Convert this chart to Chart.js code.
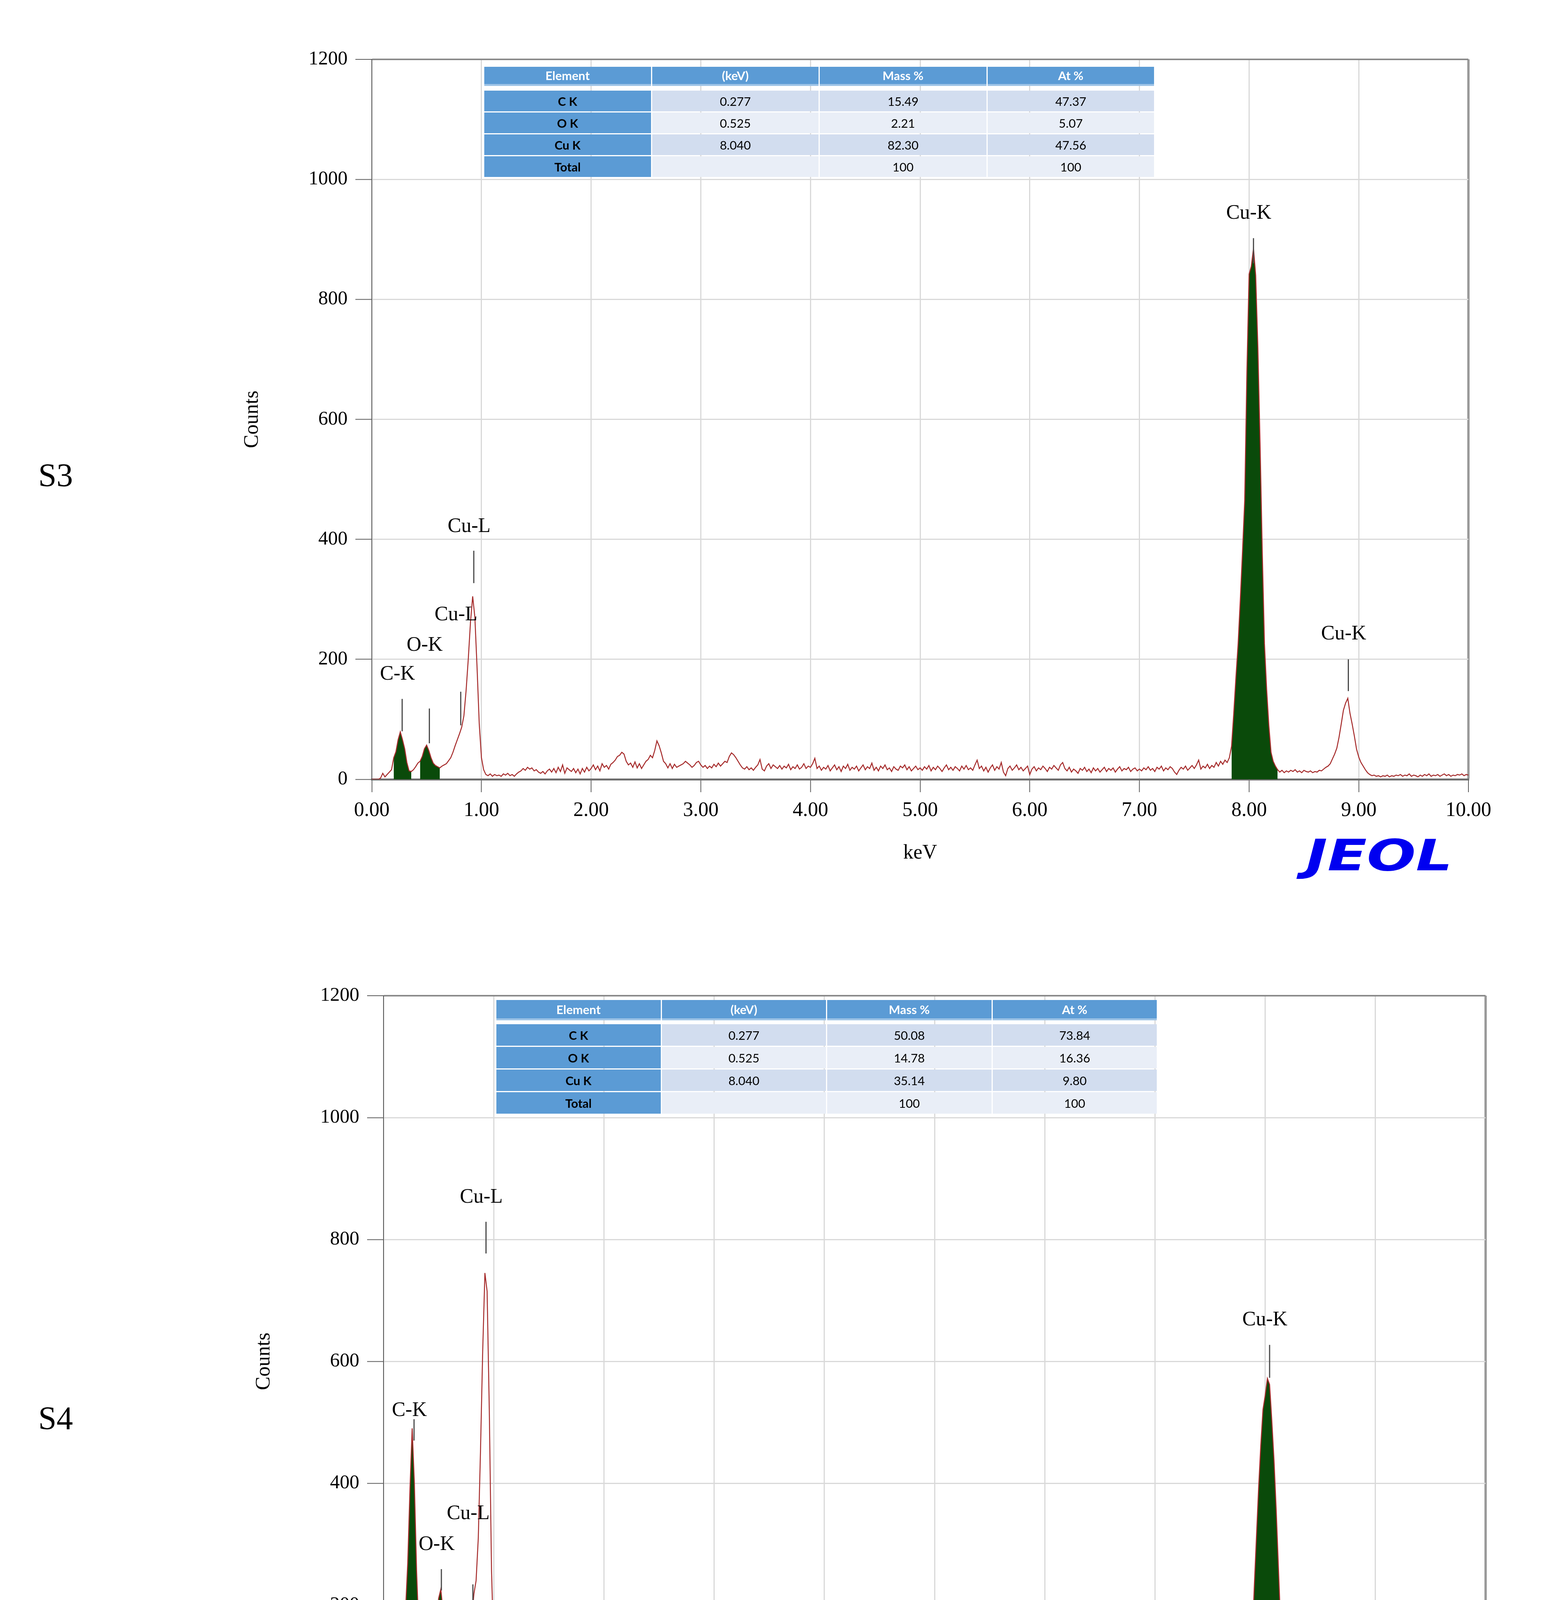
<!DOCTYPE html>
<html><head><meta charset="utf-8">
<script src="https://cdn.jsdelivr.net/npm/chart.js@4.4.1/dist/chart.umd.min.js"></script>
<style>
html,body{margin:0;padding:0;background:#fff;}
body{width:3974px;height:4735px;position:relative;overflow:hidden;}
canvas{position:absolute;left:0;}
.lbl{position:absolute;font-family:'Liberation Serif',serif;font-size:84px;line-height:1;color:#000;z-index:3;}
.jeol{position:absolute;font-family:'DejaVu Sans',sans-serif;font-weight:bold;font-style:italic;font-size:111px;line-height:1;color:#0000f0;transform-origin:0 0;transform:scaleX(1.33);white-space:nowrap;z-index:3;}
.tbl{position:absolute;font-family:Lato,'Open Sans',sans-serif;font-size:31px;z-index:3;}
.row{display:flex;gap:3px;box-sizing:border-box;}
.cell{flex:1;display:flex;align-items:center;justify-content:center;box-sizing:border-box;color:#000;}
.hd{background:#5b9bd5;color:#fff;font-weight:bold;border-bottom:5px solid #9dc3e6;}
.ec{background:#5b9bd5;font-weight:bold;}
.odd{background:#d2ddef;}
.even{background:#e9eef7;}
</style></head><body>
<canvas id="c1"></canvas>
<canvas id="c2"></canvas>
<div class="lbl" id="s3">S3</div>
<div class="lbl" id="s4">S4</div>
<div class="jeol" id="j1">JEOL</div>
<div class="jeol" id="j2">JEOL</div>
<div class="tbl" id="t1"></div>
<div class="tbl" id="t2"></div>
<script>
// ---------------- data ----------------
const STEP = 0.02; // keV per sample
const countsS3 = [
0,0,0,0,2,10,4,8,12,16, 36,46,66,79,66,51,28,14,13,16, 21,27,30,38,51,57,48,36,27,23, 21,19,22,24,26,31,36,45,56,66, 76,87,106,148,201,262,305,270,186,92,
36,16,8,6,9,5,8,6,7,5, 9,7,10,6,8,5,9,12,14,18, 15,20,17,19,14,16,12,10,13,9, 14,17,12,18,11,20,13,24,10,19, 16,13,18,11,17,9,18,12,20,14,
18,24,16,22,14,26,20,23,17,25, 28,32,38,40,45,42,30,24,27,20, 29,19,26,18,24,30,33,40,36,48, 64,56,44,30,26,19,26,18,25,20, 22,24,26,30,27,24,20,23,28,30,
24,20,23,18,22,19,25,21,27,22, 26,30,28,38,44,41,36,30,24,19, 17,21,16,19,15,20,24,33,17,14, 22,26,18,24,21,18,23,17,22,19, 25,16,21,18,24,17,20,26,18,22,
20,26,35,18,22,15,20,17,23,14, 19,24,16,21,13,22,18,25,15,20, 17,22,14,19,24,16,21,18,27,15, 20,14,22,18,24,16,19,13,21,17, 15,22,19,24,16,21,14,18,22,16,
19,15,21,17,23,14,20,16,22,18, 13,19,24,16,20,15,21,18,14,22, 17,23,16,19,15,24,32,18,22,14, 20,12,19,24,15,21,17,28,12,6, 18,22,15,19,24,16,20,14,18,22,
8,17,21,14,19,16,22,18,13,20, 17,23,19,15,24,28,18,14,20,12, 17,14,10,18,15,20,13,17,11,19, 14,18,12,16,20,13,18,15,19,12, 17,21,14,18,16,20,13,17,19,14,
17,14,19,16,21,15,18,13,20,17, 22,14,19,16,21,18,12,8,15,20, 17,22,15,19,23,18,24,32,17,22, 19,25,18,23,20,28,22,30,25,32, 28,36,55,110,170,226,300,380,465,680,
842,855,885,840,720,560,380,226,150,90, 45,30,22,16,12,15,11,14,12,15, 13,16,12,14,11,15,13,12,14,11, 13,12,15,14,17,20,22,26,34,42, 52,70,92,115,127,135,110,92,72,50,
37,28,22,16,11,8,6,7,5,6, 4,6,5,7,4,6,5,7,6,8, 5,7,6,9,5,7,6,4,7,5, 8,6,9,5,7,6,8,5,7,9, 6,8,5,7,6,8,7,9,6,8, 7
];
const countsS4 = [
0,0,0,0,5,28,30,62,92,120, 192,270,390,490,400,257,159,90,84,80, 100,82,107,128,172,211,226,190,126,82, 61,54,60,57,67,87,107,120,128,152, 175,218,240,310,453,617,745,715,519,257,
126,94,67,58,48,36,32,31,34,36, 56,44,47,40,45,38,43,36,47,42, 40,46,51,56,49,58,52,47,50,44, 51,46,43,49,53,60,55,58,52,56, 53,48,51,47,52,45,54,60,52,57,
56,50,53,59,55,58,54,62,66,73, 83,105,115,170,138,150,128,100,80,70, 51,75,68,56,64,62,83,94,118,139, 147,152,130,109,90,66,45,41,47,36, 53,38,58,47,62,43,49,64,58,66,
49,43,51,45,53,43,58,36,62,53, 58,51,68,90,110,126,100,92,66,51, 47,43,36,38,32,28,32,36,41,38, 42,36,41,39,44,36,45,30,26,34, 29,35,22,31,27,33,28,30,26,31,
29,24,31,27,22,28,25,30,26,33, 28,31,38,34,30,27,32,26,29,24, 28,23,27,25,22,27,24,28,21,25, 23,27,22,26,30,39,28,24,21,25, 22,26,20,24,21,25,19,23,18,22,
20,24,18,22,17,21,25,19,23,28, 17,22,19,24,18,23,20,25,19,22, 18,21,17,23,20,24,19,22,16,21, 19,23,18,25,20,16,21,18,22,17, 20,23,18,21,17,20,18,22,19,21,
20,17,21,15,19,16,20,14,18,21, 17,20,23,16,19,22,18,21,16,24, 19,15,18,21,14,16,19,15,22,18, 24,17,20,15,19,16,14,18,13,16, 12,16,14,18,15,17,14,16,13,17,
16,14,17,13,15,10,14,17,15,18, 16,14,17,15,18,14,17,15,19,16, 14,17,15,18,16,19,15,17,14,18, 16,15,18,14,17,21,17,24,20,28, 25,30,38,74,132,226,309,391,462,521,
544,572,562,503,438,356,262,168,103,56, 32,16,12,10,12,9,11,13,10,14, 11,9,12,10,13,11,14,12,15,13, 16,14,17,15,18,21,25,30,36,44, 50,62,75,79,88,80,62,56,38,26,
18,14,12,10,9,8,10,7,9,8, 10,7,9,11,8,10,7,9,8,10, 7,9,11,8,10,9,12,8,10,13, 9,11,8,10,7,9,11,8,10,7, 9,6,8,10,7,9,6,8,10,7, 9
];
// regions of interest (filled), keV
const roiS3 = [[0.19,0.37],[0.43,0.63],[7.83,8.27]];
const roiS4 = [[0.19,0.37],[0.43,0.63],[7.83,8.25]];
// peak markers
const peakNames = ['C-K','O-K','Cu-L','Cu-L','Cu-K','Cu-K'];
const peakKeV   = [0.277,0.525,0.811,0.930,8.040,8.905];
const markTopS3 = [134,118,146,381,902,200];
const markBotS3 = [80,60,90,327,860,147];
const labelAtS3 = [175,223,274,421,943,242];
const markTopS4 = [505,259,234,829,627,149];
const markBotS4 = [470,224,185,777,573,96];
const labelAtS4 = [519,299,350,869,668,191];
// axis ticks
const xTickValues = [0,1,2,3,4,5,6,7,8,9,10];
const yTickValues = [0,200,400,600,800,1000,1200];
// quantification tables
const tableHeader = ['Element','(keV)','Mass %','At %'];
const tableElements = ['C K','O K','Cu K','Total'];
const tableKeV = ['0.277','0.525','8.040',''];
const massS3 = ['15.49','2.21','82.30','100'];
const atS3   = ['47.37','5.07','47.56','100'];
const massS4 = ['50.08','14.78','35.14','100'];
const atS4   = ['73.84','16.36','9.80','100'];

// ---------------- layout ----------------
function place(id, l, t){ const e=document.getElementById(id); e.style.left=l+'px'; e.style.top=t+'px'; }
place('s3', 98, 1175); place('s4', 98, 3589);
place('j1', 3344, 2134); place('j2', 3388, 4577);

function buildTable(id, geo, mass, at){
  const el = document.getElementById(id);
  el.style.left = geo.left+'px'; el.style.top = geo.top+'px'; el.style.width = geo.width+'px';
  const h = document.createElement('div'); h.className='row'; h.style.height=geo.headH+'px'; h.style.marginBottom=geo.gap+'px';
  tableHeader.forEach(t=>{const c=document.createElement('div'); c.className='cell hd'; c.textContent=t; h.appendChild(c);});
  el.appendChild(h);
  tableElements.forEach((name,i)=>{
    const r=document.createElement('div'); r.className='row'; r.style.height=geo.rowH+'px'; if(i>0) r.style.marginTop=geo.rowGap+'px';
    const vals=[name, tableKeV[i], mass[i], at[i]];
    vals.forEach((v,j)=>{const c=document.createElement('div'); c.className='cell '+(j===0?'ec':(i%2===0?'odd':'even')); c.textContent=v; r.appendChild(c);});
    el.appendChild(r);
  });
}
buildTable('t1',{left:1240,top:171,width:1715,headH:49,gap:12,rowH:53,rowGap:3}, massS3, atS3);
buildTable('t2',{left:1271,top:2560,width:1691,headH:52,gap:10,rowH:55,rowGap:3}, massS4, atS4);

// ---------------- charts ----------------
const peakPlugin = {
  id:'peaks',
  afterDatasetsDraw(chart, args, o){
    const {ctx, scales:{x,y}} = chart;
    ctx.save();
    ctx.strokeStyle='#4a4a4a'; ctx.lineWidth=3;
    ctx.font='52px "Liberation Serif"'; ctx.fillStyle='#000'; ctx.textAlign='center'; ctx.textBaseline='middle';
    o.keV.forEach((e,i)=>{
      const px=x.getPixelForValue(e);
      ctx.beginPath(); ctx.moveTo(px,y.getPixelForValue(o.top[i])); ctx.lineTo(px,y.getPixelForValue(o.bottom[i])); ctx.stroke();
      ctx.fillText(o.names[i], px-12, y.getPixelForValue(o.label[i]));
    });
    ctx.restore();
  }
};
const serif='"Liberation Serif", "Times New Roman", serif';
function makeChart(id, counts, roi, peaks, g){
  const cv=document.getElementById(id);
  cv.width=3974; cv.height=g.height; cv.style.top=g.top+'px'; cv.style.width='3974px'; cv.style.height=g.height+'px';
  const pts=counts.map((c,i)=>({x:Math.round(i*STEP*100)/100, y:c}));
  const roiSets=roi.map(([a,b])=>({data:pts.filter(p=>p.x>=a&&p.x<=b), fill:'origin', backgroundColor:'#0a4a0a', borderColor:'rgba(0,0,0,0)', borderWidth:1, pointRadius:0, order:2}));
  return new Chart(cv,{
    type:'line',
    data:{datasets:[{data:pts, borderColor:'#a52a2a', borderWidth:2.5, pointRadius:0, fill:false, tension:0, order:1}, ...roiSets]},
    plugins:[peakPlugin],
    options:{
      responsive:false, animation:false, devicePixelRatio:1, parsing:true,
      layout:{padding:{top:g.padTop, right:g.padRight, left:0, bottom:0}},
      plugins:{legend:{display:false}, tooltip:{enabled:false}, peaks:peaks},
      scales:{
        x:{type:'linear', min:0, max:10,
          afterBuildTicks:s=>{s.ticks=xTickValues.map(v=>({value:v}));},
          ticks:{autoSkip:false, maxRotation:0, padding:16, color:'#000', font:{family:serif,size:52}, callback:v=>Number(v).toFixed(2)},
          grid:{color:c=>(c.tick&&c.tick.value===10)?'#9a9a9a':'#d9d9d9', lineWidth:c=>(c.tick&&c.tick.value===10)?6:3, tickLength:33, tickColor:'#5a5a5a', tickWidth:2},
          border:{color:'#6e6e6e', width:5},
          title:{display:true, text:'keV', color:'#000', font:{family:serif,size:52}, padding:{top:0,bottom:39}},
          afterFit:s=>{s.height=260;}
        },
        y:{min:0, max:1200,
          afterBuildTicks:s=>{s.ticks=yTickValues.map(v=>({value:v}));},
          ticks:{padding:20, color:'#000', font:{family:serif,size:50}, callback:v=>String(v)},
          grid:{color:c=>(c.tick&&c.tick.value===1200)?'#8a8a8a':'#d9d9d9', lineWidth:c=>(c.tick&&c.tick.value===1200)?4:3, tickLength:42, tickColor:'#5a5a5a', tickWidth:2},
          border:{color:'#555', width:2},
          title:{display:true, text:'Counts', color:'#000', font:{family:serif,size:52}, padding:{top:g.countsPad,bottom:0}},
          afterFit:s=>{s.width=g.axisLeft;}
        }
      }
    }
  });
}
makeChart('c1', countsS3, roiS3, {names:peakNames, keV:peakKeV, top:markTopS3, bottom:markBotS3, label:labelAtS3},
  {top:0, height:2255, padTop:152, padRight:214, axisLeft:952, countsPad:615});
makeChart('c2', countsS4, roiS4, {names:peakNames, keV:peakKeV, top:markTopS4, bottom:markBotS4, label:labelAtS4},
  {top:2300, height:2381, padTop:249, padRight:170, axisLeft:982, countsPad:645});
</script>
</body></html>
